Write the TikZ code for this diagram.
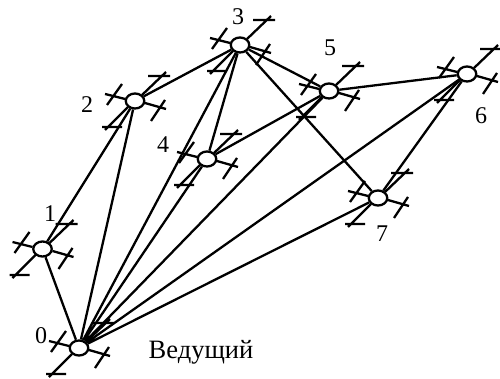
\documentclass[tikz,border=0pt]{standalone}
\usepackage{fontspec}
\setmainfont{Liberation Serif}
\usetikzlibrary{shapes.geometric}
\begin{document}
\begin{tikzpicture}[x=1pt,y=-1pt,line width=2.3pt,
  port/.style={draw,ellipse,minimum width=18.5pt,minimum height=15pt,inner sep=0pt,fill=white},
  lbl/.style={font=\fontsize{24}{24}\selectfont,inner sep=0pt},
  lead/.style={font=\fontsize{26.5}{26.5}\selectfont,inner sep=0pt},
  link/.style={line width=2.3pt},
  stubs/.pic={
    \draw (-10,-2)--(-30,-7) (-28,4)--(-13,-17);
    \draw (10,2)--(31,8) (16,20)--(30,-1);
    \draw (7,-6)--(31,-29) (13,-25)--(35,-25);
    \draw (-7,6)--(-30,29) (-33,26)--(-13,26);
  }]
\useasboundingbox (0,0) rectangle (500,379);
% stubs
\foreach \p in {(79,348),(42.5,249),(135,101),(240,45),(207,159),(329,91),(467,74),(378,198)}
  \pic at \p {stubs};
% nodes
\node[port] (n0) at (79,348) {};
\node[port] (n1) at (42.5,249) {};
\node[port] (n2) at (135,101) {};
\node[port] (n3) at (240,45) {};
\node[port] (n4) at (207,159) {};
\node[port] (n5) at (329,91) {};
\node[port] (n6) at (467,74) {};
\node[port] (n7) at (378,198) {};
% labels
\node[lbl] (l0) at (41,336) {0};
\node[lbl] (l1) at (50,214) {1};
\node[lbl] (l2) at (87,105) {2};
\node[lbl] (l3) at (238,17) {3};
\node[lbl] (l4) at (163,145) {4};
\node[lbl] (l5) at (330,48) {5};
\node[lbl] (l6) at (481,116) {6};
\node[lbl] (l7) at (382,234) {7};
\node[lead,anchor=base] (lead) at (201,358) {Ведущий};
% connectors
\draw[link] (n0)--(n1) (n0)--(n2) (n0)--(n3) (n0)--(n4) (n0)--(n5) (n0)--(n6) (n0)--(n7);
\draw[link] (n1)--(n2) (n2)--(n3) (n3)--(n4) (n3)--(n5) (n3)--(n7) (n4)--(n5) (n5)--(n6) (n6)--(n7);
\end{tikzpicture}
\end{document}
